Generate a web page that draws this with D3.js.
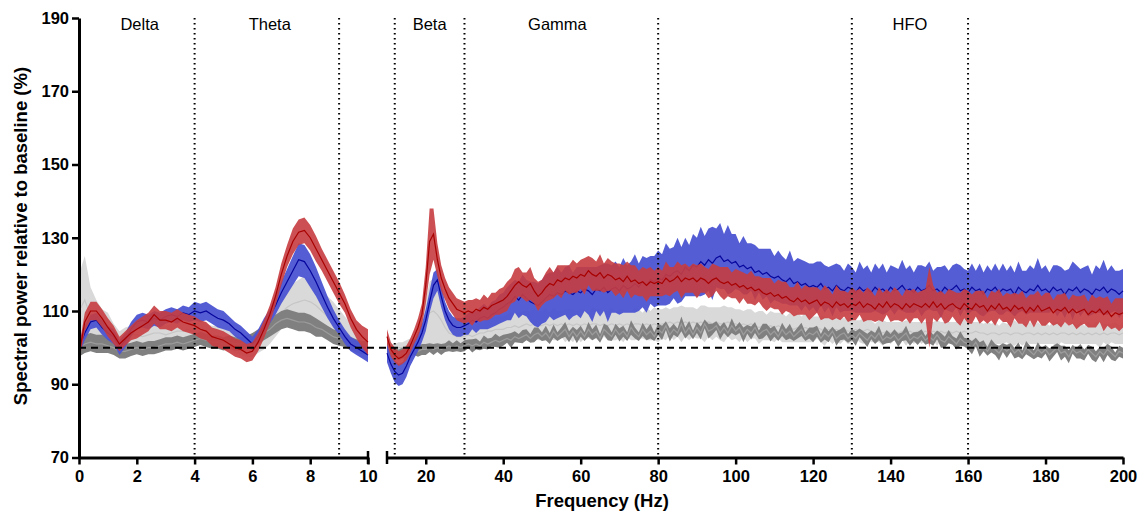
<!DOCTYPE html>
<html>
<head>
<meta charset="UTF-8">
<script src="https://d3js.org/d3.v7.min.js"></script>
<style>
body { margin: 0; background: #fff; }
text { font-family: "Liberation Sans", Arial, sans-serif; }
</style>
</head>
<body>
<script>
var width = 1141, height = 517;

// frequency grids (Hz): 0-10 Hz at 0.2 Hz, 10-200 Hz at 1 Hz
var lowFreq = d3.range(0, 51).map(function(i) { return +(i * 0.2).toFixed(1); });
var highFreq = d3.range(10, 201);

var yTicks = [70, 90, 110, 130, 150, 170, 190];
var lowTicks = [0, 2, 4, 6, 8, 10];
var highTicks = [20, 40, 60, 80, 100, 120, 140, 160, 180, 200];
var bandEdgesLow = [4, 9];
var bandEdgesHigh = [12, 30, 80, 130, 160];
var bandNames = ['Delta', 'Theta', 'Beta', 'Gamma', 'HFO'];
var bandLabelFreq = [2.1, 6.6, 21, 54, 145]; // where each name sits

// ---- 0-10 Hz, mean and sem (% of baseline) ----
var lowLightMean = [110, 113, 108.5, 107, 106, 105.5, 103.5, 102, 103, 103.5,
  103.5, 103, 103.5, 104, 104, 103.5, 104, 104.5, 104.5, 105,
  104, 104.5, 103.5, 103, 103, 102.5, 102, 101, 100.5, 100,
  100, 101, 102.5, 104.5, 107, 109.5, 111, 112, 112.5, 113,
  112.5, 111.5, 110, 108.5, 107.5, 106, 104.5, 103, 102, 101, 100.5];
var lowLightSem = [10, 12, 8, 6, 4.5, 4, 3, 2.5, 2.5, 2.5,
  2.5, 2.5, 2.5, 2.5, 2.5, 2.5, 2.5, 2.5, 2.5, 2.5,
  3, 3, 3, 3, 3, 3, 2.5, 2.5, 2.5, 2.5,
  2.5, 2.5, 3, 3.5, 4, 4.5, 5, 5.5, 6, 6.5,
  6.5, 6, 5.5, 5.5, 5, 4.5, 4, 3.5, 3, 2.5, 2];
var lowDarkMean = [100, 101, 101.5, 101, 101, 100.5, 100, 99, 99, 99.5,
  100, 99.5, 100, 100, 100.5, 101, 101, 101.5, 101, 101.5,
  102, 102.5, 102, 101.5, 101.5, 101, 101.5, 101, 101, 101.5,
  102, 103, 104, 105, 106.5, 107.5, 108, 107.5, 107, 107,
  106.5, 105.5, 105, 104, 103, 102.5, 102, 101, 100.5, 100, 100];
var lowDarkSem = [2.5, 2.5, 2.5, 2.5, 2.5, 2, 2, 2, 2, 1.8,
  1.8, 1.8, 1.8, 1.8, 1.8, 1.8, 1.8, 1.8, 1.8, 1.8,
  1.8, 1.8, 1.8, 1.8, 1.8, 1.8, 1.8, 1.8, 1.8, 1.8,
  2, 2, 2, 2, 2.5, 2.5, 2.5, 2.5, 2.5, 2.5,
  2.5, 2.5, 2, 2, 2, 2, 1.8, 1.8, 1.8, 1.8, 1.8];
var lowBlueMean = [100, 104, 107, 107.5, 105.5, 104, 103, 100, 102, 105,
  107, 107.5, 107, 108, 107.5, 108.5, 109, 108.5, 109.5, 109,
  110, 109.5, 110, 109, 108, 107.5, 106.5, 105, 104, 102.5,
  101, 103, 106, 108.5, 111.5, 115, 118, 121, 124, 123.5,
  121, 118, 114.5, 111, 108, 105.5, 103, 101, 100, 99, 98];
var lowBlueSem = [2, 2, 2, 2, 2, 2, 2, 2, 2, 2,
  2, 2, 2, 2, 2, 2, 2, 2, 2, 2,
  2.5, 2.5, 2.5, 2.5, 2.5, 2.5, 2, 2, 2, 2,
  2, 2, 2, 2, 2.5, 3, 3.5, 4, 4.5, 4.5,
  4.5, 4, 3.5, 3, 2.5, 2, 2, 2, 2, 2, 2];
var lowRedMean = [98, 107, 110, 110, 108, 105.5, 103.5, 101, 102.5, 104,
  105, 106, 107, 109, 107.5, 107.5, 107, 108, 107, 106.5,
  106, 105, 104.5, 103, 102.5, 102, 101, 100, 99.5, 98.5,
  99, 101.5, 105, 109, 114, 120, 125, 129, 131.5, 132,
  130, 127, 124, 121, 118, 115, 112, 108, 105, 103, 101.5];
var lowRedSem = [2, 2.5, 2.5, 2.5, 2.5, 2.5, 2.5, 2, 2, 2,
  2.5, 2.5, 2.5, 2.5, 2.5, 2.5, 2.5, 2.5, 2.5, 2.5,
  2.5, 2.5, 2.5, 2.5, 2.5, 2.5, 2.5, 2.5, 2.5, 2.5,
  2.5, 2.5, 2.5, 2.5, 2.5, 3, 3, 3.5, 3.5, 3.5,
  3.5, 3.5, 3, 3, 3, 3, 2.5, 2.5, 2.5, 3, 3.5];

// ---- 10-200 Hz, mean and sem (% of baseline) ----
var highLightMean = [100, 99.5, 99.5, 100, 100, 100.5, 101, 102, 103.5, 105,
  107, 109.5, 110, 109, 107.5, 105.5, 104, 103.5, 103, 103,
  103, 103.5, 103, 103.5, 104, 104, 104.5, 104.5, 105, 105,
  105, 105.5, 105.5, 106, 105.5, 106, 106.5, 106, 106.5, 106,
  106, 106.5, 106, 106.5, 106, 106.5, 106, 106.5, 106, 106.5,
  106, 106.5, 106, 106.5, 106.5, 106, 106.5, 106, 106.5, 106,
  106.5, 106, 106.5, 106, 106.5, 106.5, 106, 106.5, 106, 106.5,
  106, 106.5, 106.5, 107, 106.5, 107, 106.5, 107, 106.5, 107,
  106.5, 107, 106.5, 107, 106.5, 107, 106.5, 106.5, 107, 106.5,
  106.5, 106, 106.5, 106, 106.5, 106, 105.5, 106, 105.5, 106,
  105.5, 106, 105.5, 105, 105.5, 105, 105.5, 105, 105.5, 105,
  105, 105.5, 105, 104.5, 105, 104.5, 105, 104.5, 105, 104.5,
  104.5, 105, 104.5, 104.5, 105, 104.5, 104, 104.5, 104, 104.5,
  104, 104.5, 104, 104.5, 104, 104.5, 104, 104.5, 104, 104.5,
  104, 104.5, 104, 104.5, 104, 104.5, 104, 104.5, 104, 104.5,
  104, 104, 104.5, 104, 104, 103.5, 104, 104, 103.5, 104,
  104, 103.5, 104, 104, 103.5, 104, 104, 103.5, 104, 103.5,
  104, 103.5, 104, 103.5, 104, 104, 103.5, 104, 103.5, 104,
  103.5, 104, 103.5, 104, 103.5, 104, 103.5, 104, 104, 103.5,
  104];
var highLightSem = [1.5, 1.5, 1.5, 1.5, 1.5, 1.5, 1.5, 2, 2.5, 4,
  6, 8.5, 9, 8, 6.5, 5, 4, 3.5, 3, 3,
  3, 3, 3, 3, 3, 3, 3.5, 3.5, 3.5, 3.5,
  3.5, 3.5, 4, 3.5, 4, 4, 3.5, 4, 4, 4,
  4, 4.5, 3.5, 4.5, 4, 3.5, 4.5, 4, 4.5, 3.5,
  4.5, 4, 3.5, 4.5, 4, 4.5, 3.5, 4, 4.5, 4,
  4, 4.5, 3.5, 4, 4.5, 4, 3.5, 4.5, 4, 4.5,
  4.5, 4, 4.5, 3.5, 4.5, 4, 5, 4, 4.5, 4,
  4, 4.5, 5, 4, 4.5, 4, 4.5, 5, 4, 4.5,
  4, 4.5, 3.5, 4.5, 4, 3.5, 4.5, 4, 3.5, 4,
  4, 3.5, 4, 3.5, 4, 3.5, 4, 3.5, 4, 3.5,
  3.5, 3, 3.5, 4, 3, 3.5, 3, 3.5, 3, 3.5,
  3, 2.5, 3, 3.5, 2.5, 3, 2.5, 3, 3.5, 2.5,
  3, 2.5, 3, 2.5, 3.5, 2.5, 3, 2.5, 3, 2.5,
  3, 2.5, 3.5, 2.5, 3, 2.5, 3, 2.5, 3, 3.5,
  2.5, 3, 2.5, 3, 2.5, 3.5, 2.5, 3, 2.5, 3,
  2.5, 3, 3.5, 2.5, 3, 2.5, 3, 2.5, 3, 2.5,
  3, 2.5, 3, 3.5, 2.5, 3, 2.5, 3, 2.5, 3,
  2.5, 3, 2.5, 3, 3.5, 2.5, 3, 2.5, 3, 2.5,
  3];
var highDarkMean = [100, 99, 98.5, 98, 98.5, 98.5, 99, 99.5, 99, 99.5,
  99.5, 100, 99.5, 100, 99.5, 100, 100.5, 100, 100.5, 100,
  100.5, 101, 100.5, 101, 100.5, 101.5, 101, 101.5, 102, 101.5,
  102, 102.5, 102, 103, 102.5, 103, 103.5, 102.5, 103.5, 104,
  103, 104, 102.5, 104.5, 103, 104, 105, 103, 104.5, 103,
  104.5, 103, 105, 103.5, 104.5, 102.5, 105, 104, 103, 105,
  103.5, 104.5, 103, 105.5, 104, 103, 105, 103.5, 104.5, 103,
  105, 104, 106, 103.5, 105, 104, 106.5, 104, 105.5, 103.5,
  105.5, 104, 106.5, 104.5, 105, 106, 104, 105.5, 104, 106,
  104.5, 105.5, 103.5, 105, 104, 105.5, 103.5, 104.5, 105, 103.5,
  104.5, 103, 105, 103.5, 104.5, 103, 104, 105, 103, 104,
  103.5, 104.5, 102.5, 104, 103, 104.5, 102.5, 103.5, 104, 102.5,
  103.5, 102.5, 104, 103, 102, 103.5, 102.5, 104, 102, 103,
  102.5, 103.5, 102, 103, 104, 102, 103, 102.5, 103.5, 102,
  103, 102, 103.5, 102, 101.5, 103, 102, 101, 102.5, 101.5,
  101, 100, 101.5, 99.5, 100.5, 99, 100.5, 99.5, 98.5, 100,
  99, 100, 98.5, 99.5, 98, 100, 99, 98, 99.5, 98.5,
  99.5, 98, 99, 100, 98.5, 99, 97.5, 99.5, 98.5, 99,
  98, 99.5, 98.5, 97.5, 99, 98, 99.5, 98.5, 97.5, 99,
  98.5];
var highDarkSem = [1.5, 1.5, 1.5, 1.5, 1.5, 1.5, 1.5, 1.5, 1.5, 1.5,
  1.5, 1.2, 1.5, 1.2, 1.5, 1.2, 1.5, 1.2, 1.5, 1.2,
  1.5, 1.2, 1.8, 1.5, 1.2, 1.8, 1.5, 1.2, 1.8, 1.5,
  1.5, 1.2, 2, 1.5, 1.2, 1.8, 1.5, 1.2, 2, 1.5,
  1.2, 2, 1.5, 1.8, 1.2, 1.5, 2, 1.5, 1.2, 1.8,
  1.5, 1.2, 2, 1.5, 1.8, 1.2, 1.5, 2, 1.2, 1.5,
  1.8, 1.5, 1.2, 2, 1.5, 1.2, 1.8, 1.5, 2, 1.2,
  1.5, 2, 1.2, 1.8, 1.5, 1.2, 2, 1.5, 1.8, 1.2,
  1.5, 1.8, 1.2, 2, 1.5, 1.2, 1.8, 1.5, 1.2, 2,
  1.2, 1.5, 2, 1.2, 1.8, 1.5, 1.2, 2, 1.5, 1.8,
  1.5, 1.2, 1.8, 1.5, 2, 1.2, 1.5, 1.8, 1.2, 1.5,
  2, 1.5, 1.2, 1.8, 1.5, 1.2, 2, 1.5, 1.8, 1.2,
  1.5, 2, 1.2, 1.5, 1.8, 1.2, 1.5, 2, 1.2, 1.8,
  1.2, 1.5, 1.8, 1.2, 2, 1.5, 1.2, 1.8, 1.5, 1.2,
  1.8, 1.5, 1.2, 2, 1.5, 1.8, 1.2, 1.5, 2, 1.2,
  1.5, 1.8, 1.2, 2, 1.5, 1.2, 1.8, 1.5, 2, 1.2,
  1.8, 1.2, 1.5, 2, 1.2, 1.8, 1.5, 1.2, 2, 1.5,
  1.2, 1.8, 1.5, 1.2, 2, 1.5, 1.8, 1.2, 1.5, 2,
  1.5, 1.2, 1.8, 1.5, 1.2, 2, 1.5, 1.8, 1.2, 1.5,
  1.5];
var highBlueMean = [98.5, 95.5, 93.5, 92.5, 93, 95, 97.5, 99.5, 101.5, 104,
  107.5, 112.5, 117, 118.5, 114, 110, 107.5, 106, 105.5, 105.5,
  106, 106.5, 107.5, 107, 108, 108.5, 108, 109, 109.5, 110.5,
  111, 112, 112.5, 114, 113, 114.5, 113.5, 112.5, 112, 111.5,
  112.5, 113.5, 114.5, 114, 115, 114.5, 115.5, 115, 114.5, 115.5,
  115, 116, 115.5, 114.5, 116, 115.5, 116.5, 115, 116, 116.5,
  115.5, 117, 116, 116.5, 117.5, 116.5, 118, 117, 118.5, 118,
  119, 118.5, 120, 119.5, 120.5, 121, 120, 122, 121, 122.5,
  122, 123.5, 122.5, 124, 123, 124.5, 125, 123.5, 124, 123,
  123.5, 122, 122.5, 121.5, 122, 120.5, 121, 120, 120.5, 119.5,
  119, 119.5, 118.5, 118, 119, 117.5, 118, 117, 117.5, 116.5,
  117, 116.5, 117.5, 116, 116.5, 115.5, 117, 116, 115.5, 116.5,
  116, 115, 116.5, 115.5, 116, 115, 116.5, 115.5, 116, 115,
  116.5, 115.5, 116, 117, 115.5, 116, 115, 116.5, 115.5, 116,
  117, 115.5, 116, 115, 116.5, 115.5, 116, 117, 115.5, 116,
  115, 116.5, 115.5, 116, 114.5, 116, 115.5, 116.5, 115, 116,
  115.5, 116, 114.5, 116.5, 115.5, 115, 116, 115.5, 117, 115.5,
  116, 115, 116.5, 115.5, 116, 114.5, 116, 115.5, 116.5, 115,
  116, 115.5, 114.5, 116, 115.5, 116.5, 115, 116, 115.5, 114.5,
  115.5];
var highBlueSem = [2.5, 2.5, 3, 3, 3, 3, 2.5, 2.5, 2.5, 2.5,
  3, 3, 3.5, 3, 3, 2.5, 2.5, 2.5, 2.5, 2.5,
  2.5, 3, 2.5, 3, 3, 3.5, 3, 3.5, 3.5, 4,
  4, 4.5, 5, 4.5, 5, 5.5, 5, 5.5, 6, 6,
  6, 6.5, 6, 6.5, 7, 6, 6.5, 7.5, 6, 6.5,
  7, 6, 6.5, 7.5, 6, 7, 6.5, 8, 6.5, 7,
  6.5, 7.5, 6.5, 7, 8, 6.5, 7, 7.5, 6.5, 7,
  7.5, 7, 8.5, 7.5, 7, 9, 7.5, 8, 7, 8.5,
  8, 9.5, 8, 8.5, 10, 8, 9, 7.5, 9.5, 8,
  7.5, 6.5, 8, 7, 6.5, 7.5, 6, 7, 6.5, 7.5,
  6, 7, 6.5, 6, 7.5, 6, 6.5, 7, 6, 6.5,
  6, 7, 6, 6.5, 5.5, 7, 6, 6.5, 5.5, 6.5,
  6, 5.5, 7, 6, 6.5, 5.5, 6.5, 6, 7, 5.5,
  6, 6.5, 5.5, 7, 6, 6.5, 5.5, 6, 7, 6,
  6.5, 5.5, 6, 7, 6, 5.5, 6.5, 6, 7, 5.5,
  6, 6.5, 5.5, 7, 6, 6.5, 5.5, 6.5, 6, 7,
  5.5, 6.5, 6, 7, 5.5, 6, 6.5, 6, 7.5, 6,
  6.5, 5.5, 6, 7, 6, 6.5, 5.5, 8, 6, 6.5,
  6, 7, 5.5, 6.5, 6, 7.5, 6, 6.5, 5.5, 6.5,
  6];
var highRedMean = [103, 99.5, 98, 97, 97.5, 98.5, 100.5, 103, 105.5, 109,
  117, 129, 131, 124, 119, 116, 113.5, 112, 110.5, 110,
  109.5, 110, 109.5, 110.5, 110, 111, 110.5, 111.5, 112, 112.5,
  113, 114, 115.5, 117, 118, 117, 116.5, 117.5, 115.5, 114,
  115, 116.5, 117.5, 117, 118.5, 118, 119, 118.5, 119.5, 119,
  120, 119.5, 121, 120, 119.5, 120.5, 119, 120, 119.5, 118.5,
  119, 118, 119.5, 118, 118.5, 117.5, 118, 117, 118, 117.5,
  118, 117.5, 119, 118, 118.5, 119.5, 118, 119, 118.5, 119,
  118, 119, 118.5, 117.5, 118.5, 119, 118, 117.5, 118, 117,
  117.5, 116.5, 117, 116, 116.5, 115.5, 116, 115, 114.5, 115,
  114, 114.5, 113.5, 114, 113, 112.5, 113.5, 112.5, 113, 112,
  112.5, 113, 111.5, 112.5, 112, 111, 112.5, 111.5, 112, 111,
  112, 111.5, 112.5, 111, 112, 111.5, 110.5, 112, 111, 112.5,
  111, 112, 111.5, 110.5, 112, 111, 112, 111.5, 111, 112,
  111, 112.5, 111, 112, 110.5, 111.5, 112, 111, 110.5, 112,
  111, 110.5, 112, 111, 111.5, 110, 111.5, 110.5, 112, 110.5,
  111, 110, 111.5, 110.5, 111, 109.5, 111, 110, 111.5, 110,
  110.5, 111, 109.5, 110.5, 110, 111, 109.5, 110.5, 109.5, 110,
  110.5, 109, 110, 109.5, 110.5, 109, 110, 108.5, 109.5, 109,
  109.5];
var highRedSem = [2, 2, 2, 2, 2, 2, 2, 2, 2.5, 3,
  5, 9, 7, 4.5, 3.5, 3, 3, 3, 3, 3,
  3, 3, 3.5, 3, 3, 3.5, 3, 3.5, 3, 3.5,
  3.5, 4, 3.5, 4.5, 4, 3.5, 4, 4.5, 3.5, 4,
  3.5, 4, 4.5, 3.5, 4, 4.5, 3.5, 4, 4.5, 4,
  4, 5, 4, 4.5, 4, 5, 4, 4.5, 4, 4.5,
  4, 4.5, 4, 4.5, 4, 3.5, 4, 4.5, 4, 3.5,
  4, 3.5, 4.5, 4, 3.5, 4, 4.5, 4, 3.5, 4,
  4.5, 4, 3.5, 4, 4.5, 3.5, 4, 4.5, 4, 3.5,
  4, 4.5, 3.5, 4, 4.5, 4, 3.5, 4, 4.5, 4,
  3.5, 4, 4.5, 4, 3.5, 4, 4.5, 3.5, 4, 4.5,
  4, 3.5, 4, 4.5, 4, 3.5, 4.5, 4, 3.5, 4,
  4.5, 4, 3.5, 4, 4.5, 4, 3.5, 4.5, 4, 3.5,
  4, 4.5, 4, 3.5, 4, 4.5, 4, 3.5, 4.5, 4,
  11, 4.5, 4, 3.5, 4, 4.5, 3.5, 4, 4.5, 4,
  4.5, 4, 3.5, 4.5, 4, 3.5, 4, 4.5, 4, 3.5,
  4, 4.5, 3.5, 4, 4.5, 4, 3.5, 4.5, 4, 4,
  4.5, 4, 3.5, 4, 4.5, 4, 3.5, 4, 4.5, 4,
  4, 3.5, 4.5, 4, 3.5, 4.5, 4, 3.5, 4, 4.5,
  4];

// drawing table, bottom to top
var series = [
  {fill: '#d9d9d9', line: '#c6c6c6', op: 1, low: [lowLightMean, lowLightSem], high: [highLightMean, highLightSem]},
  {fill: '#808080', line: '#9c9c9c', op: 1, low: [lowDarkMean, lowDarkSem], high: [highDarkMean, highDarkSem]},
  {fill: '#4c54d2', line: '#06069c', op: 0.95, low: [lowBlueMean, lowBlueSem], high: [highBlueMean, highBlueSem]},
  {fill: '#c63d40', line: '#a80000', op: 0.9, low: [lowRedMean, lowRedSem], high: [highRedMean, highRedSem]}
];

var svg = d3.select('body').append('svg').attr('width', width).attr('height', height);

var y = d3.scaleLinear().domain([70, 190]).range([457.5, 18]);
var xLow = d3.scaleLinear().domain([0, 10]).range([79, 368]);
var xHigh = d3.scaleLinear().domain([10, 200]).range([387, 1123]);

function drawPanel(x, freq, key) {
  var g = svg.append('g');
  series.forEach(function(s) {
    var mean = s[key][0], sem = s[key][1];
    var pts = freq.map(function(f, i) { return {f: f, m: mean[i], s: sem[i]}; });
    var area = d3.area()
      .x(function(d) { return x(d.f); })
      .y0(function(d) { return y(d.m - d.s); })
      .y1(function(d) { return y(d.m + d.s); });
    var line = d3.line()
      .x(function(d) { return x(d.f); })
      .y(function(d) { return y(d.m); });
    g.append('path').attr('d', area(pts)).attr('fill', s.fill).attr('fill-opacity', s.op);
    g.append('path').attr('d', line(pts)).attr('fill', 'none')
      .attr('stroke', s.line).attr('stroke-width', 1.2);
  });
}
drawPanel(xLow, lowFreq, 'low');
drawPanel(xHigh, highFreq, 'high');

// baseline at 100 %
svg.append('line')
  .attr('x1', xLow(0)).attr('x2', xHigh(200))
  .attr('y1', y(100)).attr('y2', y(100))
  .attr('stroke', '#000').attr('stroke-width', 2).attr('stroke-dasharray', '7,5');

// band boundaries
var edges = bandEdgesLow.map(function(f) { return xLow(f); })
  .concat(bandEdgesHigh.map(function(f) { return xHigh(f); }));
svg.selectAll('.edge').data(edges).join('line')
  .attr('class', 'edge')
  .attr('x1', function(d) { return d; }).attr('x2', function(d) { return d; })
  .attr('y1', y(190)).attr('y2', y(70))
  .attr('stroke', '#000').attr('stroke-width', 2).attr('stroke-dasharray', '1.6,3.4');

svg.selectAll('.band').data(bandNames).join('text')
  .attr('class', 'band')
  .attr('x', function(d, i) { return i < 2 ? xLow(bandLabelFreq[i]) : xHigh(bandLabelFreq[i]); })
  .attr('y', 30)
  .attr('text-anchor', 'middle')
  .attr('font-size', 16.5)
  .text(function(d) { return d; });

function styleAxis(g) {
  g.select('.domain').attr('stroke-width', 3);
  g.selectAll('.tick line').attr('stroke-width', 2.5);
  g.selectAll('.tick text').attr('font-size', 16.5).attr('font-weight', 'bold')
    .attr('font-family', '"Liberation Sans", Arial, sans-serif').attr('fill', '#000');
}

svg.append('g').attr('transform', 'translate(79,0)')
  .call(d3.axisLeft(y).tickValues(yTicks).tickSize(7).tickSizeOuter(0).tickPadding(3))
  .call(styleAxis);

svg.append('g').attr('transform', 'translate(0,457.5)')
  .call(d3.axisBottom(xLow).tickValues(lowTicks).tickSize(7).tickSizeOuter(0).tickPadding(6))
  .call(styleAxis);

svg.append('g').attr('transform', 'translate(0,457.5)')
  .call(d3.axisBottom(xHigh).tickValues(highTicks).tickSize(7).tickSizeOuter(0).tickPadding(6))
  .call(styleAxis);

// break caps on both sides of the axis gap
[xLow(10), xHigh(10)].forEach(function(px) {
  svg.append('line').attr('x1', px).attr('x2', px)
    .attr('y1', 451).attr('y2', 464)
    .attr('stroke', '#000').attr('stroke-width', 2.5);
});

svg.append('text')
  .attr('x', 602).attr('y', 507)
  .attr('text-anchor', 'middle').attr('font-size', 18.5).attr('font-weight', 'bold')
  .text('Frequency (Hz)');

svg.append('text')
  .attr('transform', 'translate(27,236) rotate(-90)')
  .attr('text-anchor', 'middle').attr('font-size', 18.5).attr('font-weight', 'bold')
  .text('Spectral power relative to baseline (%)');
</script>
</body>
</html>
